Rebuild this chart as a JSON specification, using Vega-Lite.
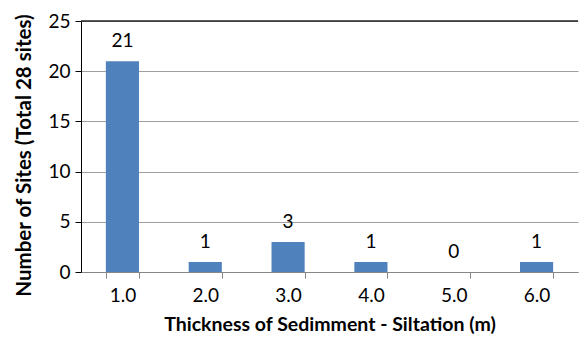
{
  "$schema": "https://vega.github.io/schema/vega-lite/v6.json",
  "width": 497,
  "height": 251,
  "autosize": "none",
  "padding": {"left": 81, "top": 21, "right": 1, "bottom": 68},
  "background": "white",
  "config": {
    "view": {"stroke": null},
    "font": "Lato",
    "axis": {"labelFont": "Lato", "titleFont": "Lato"}
  },
  "data": {
    "values": [
      {"thickness": "1.0", "sites": 21},
      {"thickness": "2.0", "sites": 1},
      {"thickness": "3.0", "sites": 3},
      {"thickness": "4.0", "sites": 1},
      {"thickness": "5.0", "sites": 0},
      {"thickness": "6.0", "sites": 1}
    ]
  },
  "encoding": {
    "x": {
      "field": "thickness",
      "type": "ordinal",
      "scale": {"paddingInner": 0.6, "paddingOuter": 0.3},
      "axis": {
        "title": "Thickness of Sedimment - Siltation (m)",
        "titleFontSize": 19.5,
        "titleFontWeight": "bold",
        "titleColor": "#000000",
        "titlePadding": 10,
        "labelAngle": 0,
        "labelFontSize": 19,
        "labelColor": "#000000",
        "labelPadding": 8,
        "tickBand": "extent",
        "tickSize": 6,
        "tickColor": "#868686",
        "domainColor": "#868686",
        "grid": false
      }
    },
    "y": {
      "field": "sites",
      "type": "quantitative",
      "scale": {"domain": [0, 25], "nice": false},
      "axis": {
        "title": "Number of Sites (Total 28 sites)",
        "titleFontSize": 20.5,
        "titleFontWeight": "bold",
        "titleColor": "#000000",
        "titlePadding": 13,
        "titleY": 134,
        "values": [0, 5, 10, 15, 20, 25],
        "labelFontSize": 19,
        "labelColor": "#000000",
        "labelPadding": 5,
        "tickSize": 6,
        "tickColor": "#000000",
        "domainColor": "#000000",
        "gridColor": "#a0a0a0",
        "grid": true
      }
    }
  },
  "layer": [
    {"mark": {"type": "bar", "color": "#4f81bd"}},
    {
      "mark": {"type": "text", "baseline": "bottom", "dy": -10, "fontSize": 19, "font": "Lato", "color": "#000000"},
      "encoding": {"text": {"field": "sites", "type": "quantitative"}}
    },
    {
      "data": {"values": [{"top": 25}]},
      "mark": {"type": "rule", "color": "#222222", "strokeWidth": 1.5},
      "encoding": {"y": {"field": "top", "type": "quantitative"}, "x": null}
    }
  ]
}
